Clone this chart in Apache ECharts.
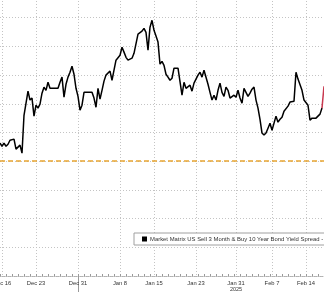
<!DOCTYPE html>
<html>
<head>
<meta charset="utf-8">
<script src="https://cdn.jsdelivr.net/npm/echarts@6/dist/echarts.min.js"></script>
<style>
html,body{margin:0;padding:0;background:#fff;}
#c{width:324px;height:292px;}
</style>
</head>
<body>
<div id="c"></div>
<script>
// Spread values (bp), one per category slot
const spread = [
  6.3,5.2,6.3,5.2,5.9,7.3,7.0,7.7,4.2,3.8,
  5.6,2.8,16.0,16.4,24.4,21.3,22.0,15.7,19.5,18.5,
  19.9,23.7,25.8,24.7,27.5,25.4,25.4,25.4,25.4,25.4,
  27.5,29.3,22.3,26.8,29.3,31.0,33.1,30.3,25.4,22.6,
  17.8,19.5,24.0,24.0,24.0,24.0,24.0,22.0,18.8,25.4,
  21.6,24.7,27.9,30.0,30.0,31.4,28.2,31.7,35.2,35.2,
  36.9,39.7,38.0,36.2,35.2,35.5,35.9,37.6,38.0,44.3,
  43.9,45.3,46.3,44.9,38.7,46.7,49.1,45.6,43.6,41.5,
  33.8,34.8,33.4,30.3,29.3,28.2,28.9,32.4,32.4,32.4,
  32.4,23.0,27.5,25.4,25.8,26.5,24.4,27.2,26.8,30.0,
  31.0,29.3,31.7,31.7,26.8,24.0,21.3,23.0,21.3,24.7,
  27.2,24.0,22.6,25.8,24.7,22.0,22.3,23.0,22.3,24.7,
  22.0,20.2,25.4,24.0,22.6,23.7,25.1,25.8,21.3,18.5,
  14.6,9.8,9.1,9.8,11.5,13.2,10.8,10.8,15.7,13.6,
  14.6,15.3,17.4,17.1,19.2,20.6,20.2,20.9,31.0,28.6,
  28.9,24.7,21.3,21.3,19.5,14.3,15.0,15.0,15.0,15.7,
  16.4,18.5,null
];
// Latest (red) segment
const latest = [];
for (let i = 0; i < spread.length; i++) latest.push(null);
const latestValues = [[161, 18.5], [162, 26.1]];
latestValues.forEach(([i, v]) => { latest[i] = v; });

const categories = spread.map((_, i) => String(i));
const tickIndex = [1, 18, 39, 60, 77, 98, 118, 136, 153];
const tickLabels = ['Dec 16', 'Dec 23', 'Dec 31', 'Jan 8', 'Jan 15', 'Jan 23', 'Jan 31', 'Feb 7', 'Feb 14'];
const yearBoundaryIndex = 39;
const yearLabelIndex = 118;
const yearLabel = '2025';
const refLevel = 0;
const seriesName = 'Market Matrix US Sell 3 Month & Buy 10 Year Bond Yield Spread - Last Price';

const chart = echarts.init(document.getElementById('c'), null, {renderer: 'canvas'});
const gridColor = '#c4c4c4';
chart.setOption({
  animation: false,
  backgroundColor: '#ffffff',
  grid: {left: 0, right: 0, top: -11, bottom: 16, containLabel: false, outerBoundsMode: 'none'},
  legend: {
    data: [{name: seriesName, icon: 'rect'}],
    left: 134, top: 233,
    padding: [3, 3, 3, 8],
    itemWidth: 5, itemHeight: 5,
    itemGap: 4,
    backgroundColor: '#ffffff',
    borderColor: '#a0a0a0', borderWidth: 1,
    textStyle: {fontSize: 5.9, color: '#333', fontFamily: 'Liberation Sans, Arial, sans-serif', padding: [0, 0, 0, -2]}
  },
  xAxis: [{
    type: 'category',
    data: categories,
    boundaryGap: false,
    axisLine: {show: true, onZero: false, lineStyle: {color: '#b0b0b0', type: [1, 1], width: 1}},
    axisTick: {show: true, inside: true, length: 2, interval: (i) => i % 3 === 0, lineStyle: {color: '#999'}},
    axisLabel: {
      show: true,
      interval: (i) => tickIndex.includes(i),
      formatter: (v, i) => { const k = tickIndex.indexOf(Number(v)); return k >= 0 ? tickLabels[k] : ''; },
      fontSize: 5.8, color: '#333', margin: 4,
      fontFamily: 'Liberation Sans, Arial, sans-serif'
    },
    splitLine: {show: true, interval: (i) => tickIndex.includes(i), lineStyle: {color: gridColor, type: [1, 2]}}
  }, {
    type: 'category',
    data: categories,
    position: 'bottom',
    boundaryGap: false,
    axisLine: {show: false, onZero: false},
    axisTick: {show: true, inside: false, length: 16, interval: (i) => i === yearBoundaryIndex, lineStyle: {color: '#999'}},
    axisLabel: {
      show: true,
      interval: (i) => i === yearLabelIndex,
      formatter: () => yearLabel,
      fontSize: 5.5, color: '#333', margin: 10,
      fontFamily: 'Liberation Sans, Arial, sans-serif'
    },
    splitLine: {show: false}
  }],
  yAxis: {
    type: 'value',
    min: -40, max: 60, interval: 10,
    axisLine: {show: false}, axisTick: {show: false}, axisLabel: {show: false},
    splitLine: {show: true, lineStyle: {color: gridColor, type: [1, 2]}}
  },
  series: [{
    name: seriesName,
    type: 'line',
    data: spread,
    symbol: 'none',
    lineStyle: {color: '#000', width: 1.5},
    itemStyle: {color: '#000'},
    markLine: {
      silent: true, symbol: 'none', label: {show: false},
      lineStyle: {color: '#E8A532', width: 1.5, type: [5, 3]},
      data: [{yAxis: refLevel}]
    }
  }, {
    name: 'latest',
    type: 'line',
    data: latest,
    symbol: 'none',
    lineStyle: {color: '#C8384F', width: 1.5},
    itemStyle: {color: '#C8384F'}
  }]
});
</script>
</body>
</html>
